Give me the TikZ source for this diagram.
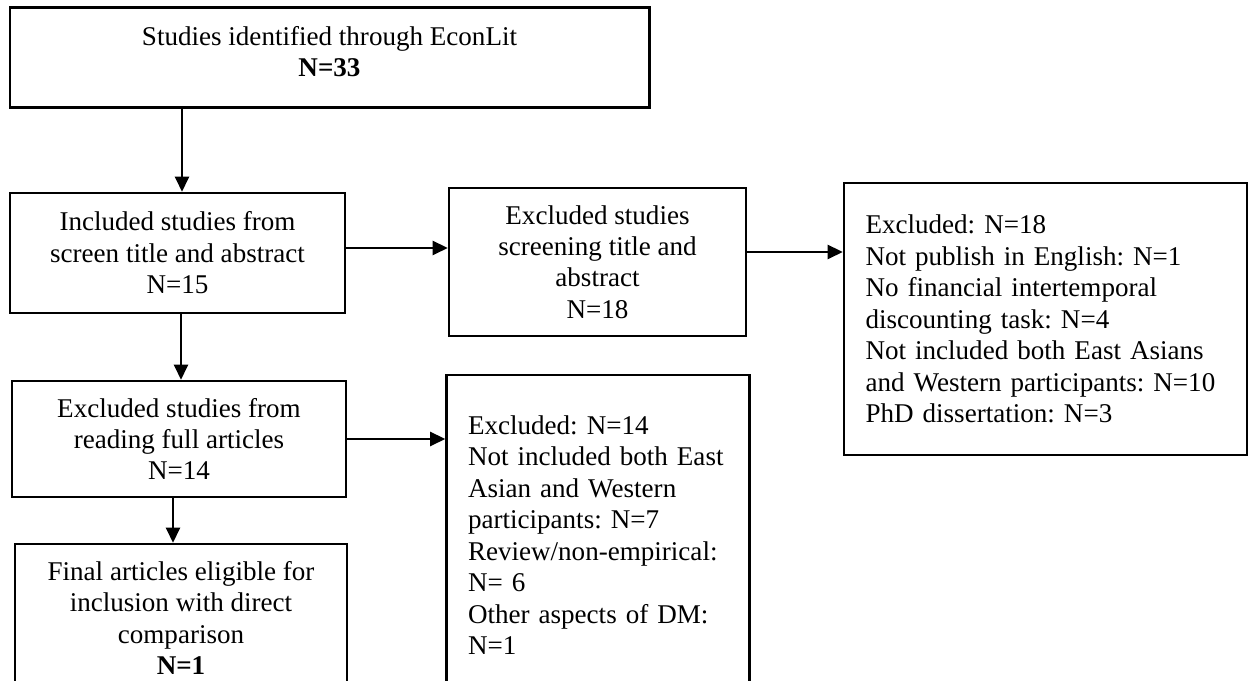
\documentclass[tikz,border=0pt]{standalone}
\usepackage{fontspec}
\setmainfont{Liberation Serif}
\frenchspacing
\usetikzlibrary{positioning,arrows.meta}

\begin{document}
\begin{tikzpicture}[
        box/.style={draw, line width=1.45pt, inner sep=0pt, align=center,
                    font=\fontsize{15.4}{17.9}\selectfont},
        listbox/.style={box, align=left, inner xsep=0.43cm, text width=#1},
        arr/.style={-{Triangle[length=0.3cm, width=0.28cm]}, line width=1.3pt},
      ]
        \useasboundingbox (0,0) rectangle (24.98,13.6);
        \clip (0,0) rectangle (24.98,13.6);
        \node[box, line width=1.7pt, minimum width=12.78cm, minimum height=2.0cm, text depth=0.25cm] (ident) at (6.59, 12.44)
          {Studies identified through EconLit\\\textbf{N=33}};
        \node[box, minimum width=6.70cm, minimum height=2.40cm] (incl) at (3.55, 8.54)
          {Included studies from\\screen title and abstract\\N=15};
        \node[box, minimum width=5.94cm, minimum height=2.96cm] (exscreen) at (11.95, 8.36)
          {Excluded studies\\screening title and\\abstract\\N=18};
        \node[listbox=7.2cm, minimum width=8.06cm, minimum height=5.44cm] (reasonsa) at (20.91, 7.22)
          {Excluded: N=18\\Not publish in English: N=1\\No financial intertemporal\\discounting task: N=4\\Not included both East Asians\\and Western participants: N=10\\PhD dissertation: N=3};
        \node[box, minimum width=6.68cm, minimum height=2.32cm] (exfull) at (3.58, 4.82)
          {Excluded studies from\\reading full articles\\N=14};
        \node[listbox=5.2cm, minimum width=6.04cm, minimum height=6.40cm] (reasonsb) at (11.96, 2.90)
          {Excluded: N=14\\Not included both East\\Asian and Western\\participants: N=7\\Review/non-empirical:\\N= 6\\Other aspects of DM:\\N=1};
        \node[box, minimum width=6.64cm, minimum height=2.96cm] (final) at (3.62, 1.24)
          {Final articles eligible for\\inclusion with direct\\comparison\\\textbf{N=1}};
        \draw[arr] ([xshift=0.09cm]incl.north |- ident.south) -- ([xshift=0.09cm]incl.north);
        \draw[arr] ([xshift=0.07cm]incl.south) -- ([xshift=0.07cm]incl.south |- exfull.north);
        \draw[arr] ([xshift=-0.12cm]exfull.south) -- ([xshift=-0.12cm]exfull.south |- final.north);
        \draw[arr] ([yshift=0.10cm]incl.east) -- ([yshift=0.10cm]incl.east -| exscreen.west);
        \draw[arr] ([yshift=0.20cm]exscreen.east) -- ([yshift=0.20cm]exscreen.east -| reasonsa.west);
        \draw[arr] (exfull.east) -- (exfull.east -| reasonsb.west);
      \end{tikzpicture}
\end{document}
